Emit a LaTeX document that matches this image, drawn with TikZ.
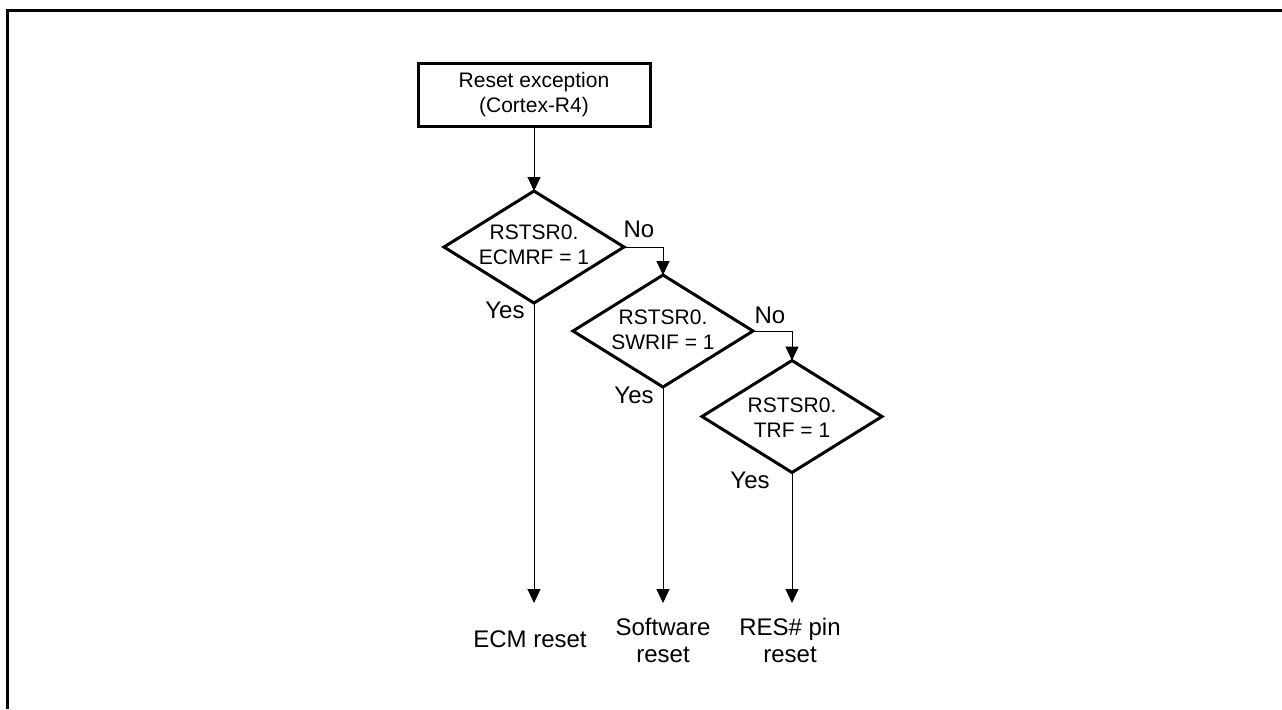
\documentclass[tikz,border=0pt]{standalone}
\usepackage{fontspec}
\setmainfont{Liberation Sans}
\usetikzlibrary{shapes.geometric,arrows.meta}

\begin{document}
\begin{tikzpicture}[x=0.5pt,y=-0.5pt,
  font=\fontsize{10.5}{12.5}\selectfont,
  thickline/.style={line width=1.5pt},
  startbox/.style={draw,thickline,rectangle,minimum width=116pt,minimum height=31.5pt,
    inner sep=0pt,outer sep=0pt,align=center},
  decision/.style={draw,thickline,diamond,minimum width=90pt,minimum height=56pt,
    inner sep=0pt,outer sep=0pt},
  condtext/.style={align=center,inner sep=0pt},
  branch/.style={inner sep=0pt,anchor=base,font=\fontsize{12}{13.5}\selectfont},
  result/.style={align=center,inner sep=0pt,font=\fontsize{12}{13.5}\selectfont},
  arr/.style={line width=0.5pt,-{Triangle[length=7pt,width=6.5pt]}}]

\useasboundingbox (0,0) rectangle (1282,709);

% outer frame (top and left edges)
\draw[thickline] (7.5,709) -- (7.5,10.5) -- (1282,10.5);

% start block
\node[startbox] (start) at (534,94.5) {Reset exception\\(Cortex-R4)};

% decisions
\node[decision] (d1) at (534,247) {};
\node[condtext] (c1) at (534,245) {RSTSR0.\\ECMRF = 1};
\node[decision] (d2) at (663,331) {};
\node[condtext] (c2) at (663,330) {RSTSR0.\\SWRIF = 1};
\node[decision] (d3) at (792,416.5) {};
\node[condtext] (c3) at (792,418) {RSTSR0.\\TRF = 1};

% branch labels
\node[branch] (no1) at (639,237) {No};
\node[branch] (no2) at (770,323) {No};
\node[branch] (yes1) at (505,318) {Yes};
\node[branch] (yes2) at (634,403) {Yes};
\node[branch] (yes3) at (750,488) {Yes};

% arrow ends
\coordinate (t1) at (534,603);
\coordinate (t2) at (663,603);
\coordinate (t3) at (792,603);

% results
\node[result,anchor=base] (ecm) at (530,647) {ECM reset};
\node[result] (sw) at (663,640) {Software\\reset};
\node[result] (pin) at (790,640) {RES\# pin\\reset};

% connectors
\draw[arr] (start.south) -- (d1.north);
\draw[arr] (d1.east) -| (d2.north);
\draw[arr] (d2.east) -| (d3.north);
\draw[arr] (d1.south) -- (t1);
\draw[arr] (d2.south) -- (t2);
\draw[arr] (d3.south) -- (t3);
\end{tikzpicture}
\end{document}
